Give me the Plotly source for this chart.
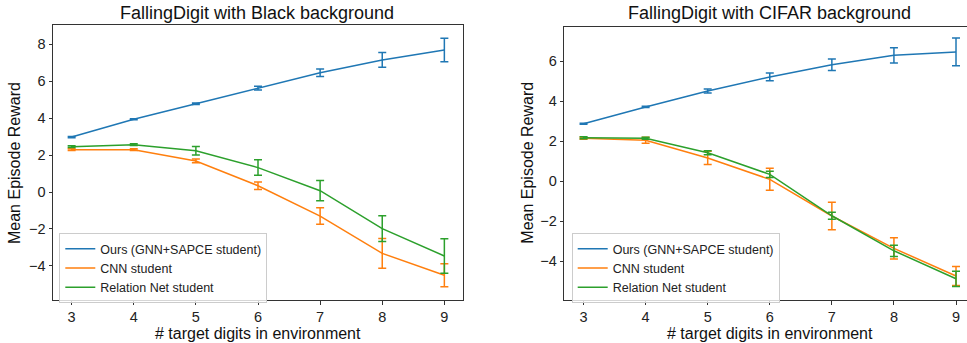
import plotly.graph_objects as go

# ---- data ----
digits = [3, 4, 5, 6, 7, 8, 9]
series_names = ["Ours (GNN+SAPCE student)", "CNN student", "Relation Net student"]
colors = ["#1f77b4", "#ff7f0e", "#2ca02c"]

black_ours = [2.97, 3.93, 4.77, 5.62, 6.45, 7.14, 7.68]
black_ours_err = [0.03, 0.03, 0.04, 0.10, 0.20, 0.40, 0.64]
black_cnn = [2.29, 2.29, 1.68, 0.34, -1.30, -3.32, -4.50]
black_cnn_err = [0.05, 0.05, 0.10, 0.20, 0.45, 0.80, 0.62]
black_rel = [2.45, 2.56, 2.23, 1.32, 0.07, -1.98, -3.46]
black_rel_err = [0.05, 0.05, 0.23, 0.42, 0.55, 0.70, 0.93]

cifar_ours = [2.88, 3.72, 4.52, 5.22, 5.83, 6.30, 6.47]
cifar_ours_err = [0.03, 0.03, 0.10, 0.19, 0.29, 0.38, 0.69]
cifar_cnn = [2.15, 2.05, 1.17, 0.10, -1.73, -3.35, -4.73]
cifar_cnn_err = [0.05, 0.15, 0.33, 0.55, 0.69, 0.53, 0.47]
cifar_rel = [2.18, 2.15, 1.43, 0.35, -1.72, -3.47, -4.87]
cifar_rel_err = [0.05, 0.05, 0.10, 0.16, 0.17, 0.28, 0.38]

titles = ["FallingDigit with Black background", "FallingDigit with CIFAR background"]
xlabel = "# target digits in environment"
ylabel = "Mean Episode Reward"

FONT = "Liberation Sans, Arial, Helvetica, sans-serif"
W, H = 967, 343

fig = go.Figure()

panels = [
    ([black_ours, black_cnn, black_rel], [black_ours_err, black_cnn_err, black_rel_err], "x", "y", "legend"),
    ([cifar_ours, cifar_cnn, cifar_rel], [cifar_ours_err, cifar_cnn_err, cifar_rel_err], "x2", "y2", "legend2"),
]
for vals, errs, xa, ya, lg in panels:
    for name, col, v, e in zip(series_names, colors, vals, errs):
        fig.add_trace(go.Scatter(
            x=digits, y=v, name=name, mode="lines",
            line=dict(color=col, width=1.5),
            error_y=dict(type="data", array=e, visible=True, color=col, thickness=1.5, width=4),
            xaxis=xa, yaxis=ya, legend=lg,
        ))

axis_common = dict(
    showgrid=False, zeroline=False, showline=True, linecolor="#333", linewidth=1,
    ticks="outside", ticklen=3.5, tickcolor="#333",
    tickfont=dict(family=FONT, size=14.5, color="#222"), automargin=False,
)

def px_x(p):
    return p / W

def px_y(p):
    return 1 - p / H

legend_common = dict(
    xanchor="left", yanchor="top",
    bgcolor="rgba(255,255,255,0.8)", bordercolor="#ccc", borderwidth=1,
    font=dict(family=FONT, size=12.5, color="#222"), tracegroupgap=0, itemwidth=30,
)

fig.update_layout(
    width=W, height=H, template="none",
    margin=dict(l=0, r=0, t=0, b=0),
    paper_bgcolor="white", plot_bgcolor="white",
    font=dict(family=FONT, color="#222"),
    xaxis=dict(domain=[px_x(53), px_x(463)], range=[2.7, 9.3], anchor="y", mirror=True,
               tickvals=digits, **axis_common),
    yaxis=dict(domain=[px_y(300), px_y(25)], range=[-5.84, 9.03], anchor="x", mirror=True,
               tickvals=[-4, -2, 0, 2, 4, 6, 8], **axis_common),
    xaxis2=dict(domain=[px_x(564.3), 1.0], range=[2.69, 9.177], anchor="y2", mirror=True,
                tickvals=digits, **axis_common),
    yaxis2=dict(domain=[px_y(300), px_y(26.7)], range=[-5.93, 7.73], anchor="x2", mirror=False,
                tickvals=[-4, -2, 0, 2, 4, 6], **axis_common),
    legend=dict(x=px_x(59.3), y=px_y(233), **legend_common),
    legend2=dict(x=px_x(571.7), y=px_y(233), **legend_common),
)

annotations = [
    dict(text=titles[0], x=px_x(257), y=px_y(13)),
    dict(text=titles[1], x=px_x(769.5), y=px_y(13)),
]
for a in annotations:
    a.update(xref="paper", yref="paper", xanchor="center", yanchor="middle", showarrow=False,
             font=dict(family=FONT, size=18, color="#111"))
for cx in (258, 769.5):
    annotations.append(dict(text=xlabel, x=px_x(cx), y=px_y(333), xref="paper", yref="paper",
                            xanchor="center", yanchor="middle", showarrow=False,
                            font=dict(family=FONT, size=16, color="#111")))
for cx, cy in ((14, 163), (526.7, 163)):
    annotations.append(dict(text=ylabel, x=px_x(cx), y=px_y(cy), xref="paper", yref="paper",
                            xanchor="center", yanchor="middle", showarrow=False, textangle=-90,
                            font=dict(family=FONT, size=16, color="#111")))
fig.update_layout(annotations=annotations)

fig.write_html("out.html", config={"displayModeBar": False},
               post_script="document.body.style.margin='0';document.body.style.overflow='hidden';")
